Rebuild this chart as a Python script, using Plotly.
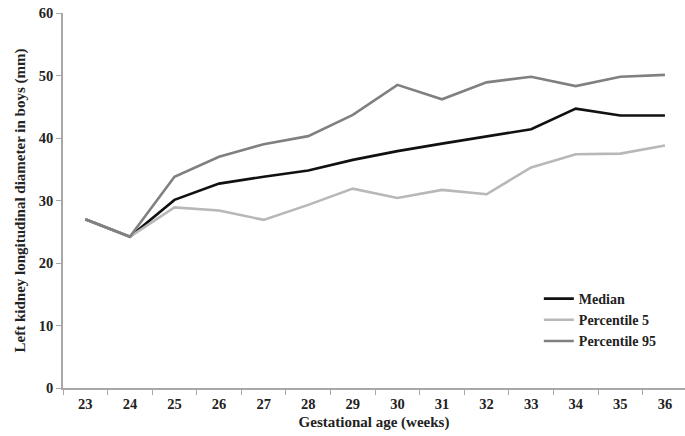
import plotly.graph_objects as go

weeks = ["23", "24", "25", "26", "27", "28", "29", "30", "31", "32", "33", "34", "35", "36"]
median = [27.0, 24.2, 30.1, 32.7, 33.8, 34.8, 36.5, 37.9, 39.1, 40.2, 41.4, 44.7, 43.6, 43.6]
p5 = [27.0, 24.2, 28.9, 28.4, 26.9, 29.3, 31.9, 30.4, 31.7, 31.0, 35.3, 37.4, 37.5, 38.8]
p95 = [27.0, 24.2, 33.8, 37.0, 39.0, 40.3, 43.7, 48.5, 46.2, 48.9, 49.8, 48.3, 49.8, 50.1]
y_ticks = [0, 10, 20, 30, 40, 50, 60]

font_serif = "Liberation Serif"

fig = go.Figure()
fig.add_trace(go.Scatter(x=weeks, y=median, mode="lines", name="Median",
                         line=dict(color="#111111", width=2.6)))
fig.add_trace(go.Scatter(x=weeks, y=p5, mode="lines", name="Percentile 5",
                         line=dict(color="#b8b8b8", width=2.6)))
fig.add_trace(go.Scatter(x=weeks, y=p95, mode="lines", name="Percentile 95",
                         line=dict(color="#808080", width=2.6)))

fig.update_layout(
    width=685, height=436,
    margin=dict(l=63, r=0, t=13, b=48),
    paper_bgcolor="white", plot_bgcolor="white",
    font=dict(family=font_serif, size=14, color="#222222"),
    showlegend=True,
    legend=dict(x=0.765, xanchor="left", y=0.28, yanchor="top",
                bgcolor="rgba(0,0,0,0)",
                font=dict(family=font_serif, size=14, color="#222222", weight="bold"),
                tracegroupgap=0, itemwidth=30),
)
fig.update_xaxes(
    type="category", range=[-0.5, 13.45],
    showline=True, linecolor="#a8a8a8", linewidth=1.5,
    ticks="outside", tickson="boundaries", ticklen=5, tickcolor="#a8a8a8",
    ticklabelstandoff=2,
    showgrid=False, zeroline=False,
    tickfont=dict(family=font_serif, size=14.5, color="#222222", weight="bold"),
    title=dict(text="Gestational age (weeks)", standoff=5,
               font=dict(family=font_serif, size=15, color="#222222", weight="bold")),
)
fig.update_yaxes(
    range=[0, 60], tickvals=y_ticks,
    showline=True, linecolor="#a8a8a8", linewidth=1.5,
    ticks="outside", ticklen=5, tickcolor="#a8a8a8",
    showgrid=False, zeroline=False,
    tickfont=dict(family=font_serif, size=14.5, color="#222222", weight="bold"),
    title=dict(text="Left kidney longitudinal diameter in boys (mm)", standoff=10,
               font=dict(family=font_serif, size=15, color="#222222", weight="bold")),
)

fig.write_html("out.html")
